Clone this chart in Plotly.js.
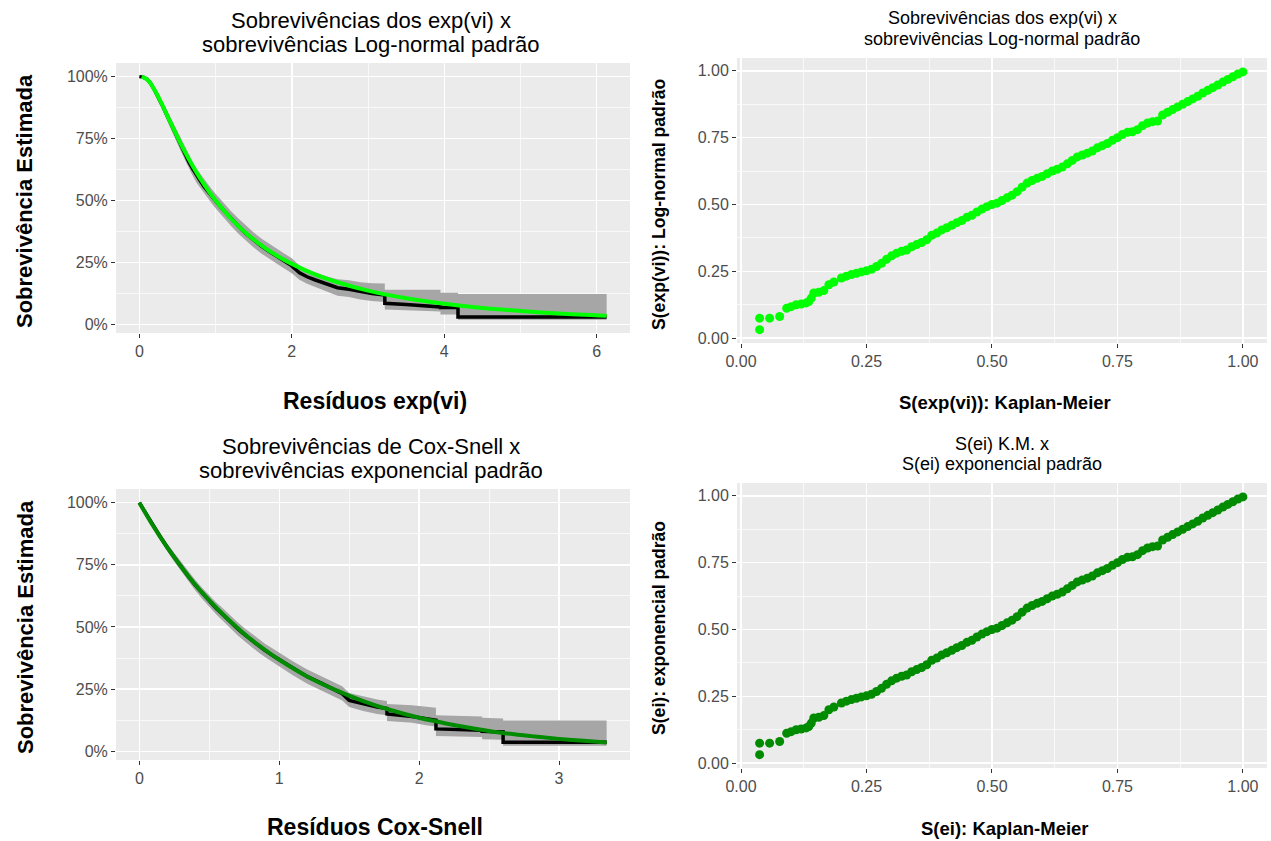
<!DOCTYPE html>
<html><head><meta charset="utf-8">
<script src="https://cdn.plot.ly/plotly-3.0.1.min.js"></script>
<style>html,body{margin:0;padding:0;background:#fff}#chart{width:1271px;height:841px}</style>
</head><body><div id="chart"></div>
<script>
// ---------- Panel 1: KM of exp(vi) vs standard log-normal ----------
const kmViX  = [0,0.05,0.10,0.15,0.20,0.25,0.30,0.35,0.40,0.45,0.50,0.55,0.60,0.65,0.70,0.75,0.80,0.85,0.90,0.95,1.00,1.10,1.20,1.30,1.40,1.50,1.60,1.70,1.80,1.90,2.00,
  2.10,2.20,2.30,2.40,2.50,2.60,2.75,2.90,3.05,3.22,3.22,3.50,3.80,3.95,3.95,4.18,4.18,6.13];
const kmViS  = [1.0,0.998,0.99,0.972,0.945,0.917,0.885,0.852,0.818,0.785,0.752,0.72,0.688,0.655,0.628,0.60,0.578,0.556,0.536,0.516,0.498,0.462,0.428,0.396,0.366,0.340,0.316,0.295,0.274,0.255,0.236,
  0.208,0.192,0.180,0.170,0.158,0.148,0.142,0.132,0.124,0.118,0.085,0.080,0.075,0.070,0.068,0.068,0.030,0.030];
const kmViLo = [1.0,0.994,0.982,0.96,0.93,0.90,0.866,0.832,0.796,0.762,0.728,0.695,0.662,0.628,0.60,0.572,0.55,0.528,0.508,0.488,0.469,0.433,0.398,0.366,0.336,0.310,0.286,0.265,0.244,0.225,0.206,
  0.180,0.164,0.152,0.142,0.130,0.115,0.110,0.100,0.094,0.090,0.060,0.058,0.054,0.052,0.040,0.040,0.018,0.018];
const kmViHi = [1.0,1.0,0.997,0.983,0.958,0.934,0.903,0.872,0.839,0.808,0.776,0.745,0.714,0.682,0.656,0.628,0.606,0.584,0.565,0.545,0.527,0.492,0.458,0.427,0.397,0.371,0.347,0.326,0.305,0.286,0.267,
  0.238,0.222,0.210,0.200,0.190,0.182,0.178,0.170,0.166,0.165,0.140,0.140,0.140,0.140,0.127,0.127,0.122,0.122];
const lognX  = [0.03,0.1,0.15,0.2,0.25,0.3,0.4,0.5,0.6,0.7,0.8,0.9,1.0,1.2,1.4,1.6,1.8,2.0,2.3,2.6,3.0,3.5,4.0,4.5,5.0,5.5,6.13];
const lognS  = [1.0,0.989,0.971,0.946,0.917,0.886,0.820,0.756,0.695,0.639,0.588,0.542,0.500,0.428,0.368,0.319,0.278,0.244,0.202,0.170,0.136,0.105,0.083,0.066,0.054,0.044,0.035];

// ---------- Panel 2 / 4: KM survival vs model survival (points) ----------
const sKM = [0.037,0.037,0.057,0.077,0.091,0.10,0.11,0.12,0.13,0.135,0.14,0.145,0.155,0.165,0.175,0.185,0.20,0.21,0.22,0.23,0.24,0.25,0.26,0.27,0.28,0.29,
  0.30,0.31,0.32,0.33,0.34,0.35,0.36,0.37,0.38,0.39,0.40,0.41,0.42,0.43,0.44,0.45,0.46,0.47,0.48,0.49,0.50,0.51,0.52,0.53,0.54,0.55,0.56,0.57,0.58,0.59,
  0.60,0.61,0.62,0.63,0.64,0.65,0.66,0.67,0.68,0.69,0.70,0.71,0.72,0.73,0.74,0.75,0.76,0.77,0.78,0.79,0.80,0.81,0.82,0.83,0.84,0.85,0.86,0.87,0.88,0.89,
  0.90,0.91,0.92,0.93,0.94,0.95,0.96,0.97,0.98,0.99,1.00];
const sLogn = [0.032,0.075,0.075,0.081,0.112,0.118,0.125,0.128,0.132,0.137,0.15,0.169,0.172,0.178,0.20,0.21,0.225,0.232,0.238,0.243,0.248,0.252,0.258,0.268,0.28,0.295,
  0.308,0.318,0.325,0.33,0.342,0.35,0.358,0.368,0.385,0.393,0.405,0.413,0.422,0.432,0.44,0.452,0.46,0.472,0.483,0.492,0.50,0.505,0.515,0.525,0.535,0.548,0.565,0.58,0.59,0.598,
  0.605,0.615,0.625,0.632,0.64,0.652,0.665,0.678,0.685,0.692,0.70,0.712,0.72,0.728,0.74,0.75,0.762,0.77,0.772,0.78,0.795,0.805,0.81,0.812,0.835,0.845,0.855,0.865,0.875,0.885,
  0.895,0.905,0.917,0.927,0.937,0.947,0.958,0.968,0.978,0.988,0.996];
const sKMei  = sKM.slice();
const sExpEi = sLogn.slice();

// ---------- Panel 3: KM of Cox-Snell residuals vs standard exponential ----------
const kmCsX  = [0,0.05,0.10,0.15,0.20,0.25,0.30,0.35,0.40,0.45,0.50,0.55,0.60,0.65,0.70,0.75,0.80,0.85,0.90,0.95,1.00,1.10,1.20,1.30,
  1.40,1.45,1.50,1.60,1.70,1.77,1.77,1.95,2.05,2.12,2.12,2.45,2.45,2.60,2.60,3.34];
const kmCsS  = [1.0,0.953,0.908,0.862,0.820,0.780,0.741,0.703,0.668,0.635,0.603,0.574,0.548,0.520,0.494,0.470,0.447,0.425,0.405,0.386,0.368,0.333,0.300,0.274,
  0.245,0.232,0.205,0.190,0.178,0.172,0.150,0.140,0.130,0.125,0.090,0.085,0.080,0.078,0.036,0.036];
const kmCsLo = [1.0,0.943,0.896,0.848,0.804,0.762,0.722,0.683,0.647,0.613,0.580,0.550,0.523,0.495,0.468,0.444,0.420,0.398,0.378,0.359,0.340,0.305,0.272,0.245,
  0.216,0.204,0.178,0.162,0.150,0.145,0.122,0.115,0.105,0.100,0.062,0.058,0.048,0.046,0.022,0.022];
const kmCsHi = [1.0,0.963,0.920,0.876,0.836,0.798,0.760,0.723,0.689,0.657,0.626,0.598,0.573,0.545,0.520,0.496,0.474,0.452,0.432,0.414,0.396,0.361,0.329,0.303,
  0.275,0.262,0.234,0.220,0.208,0.202,0.190,0.185,0.180,0.175,0.145,0.140,0.135,0.132,0.124,0.124];
const expX   = [0,0.1,0.2,0.3,0.4,0.5,0.6,0.7,0.8,0.9,1.0,1.2,1.4,1.6,1.8,2.0,2.2,2.4,2.6,2.8,3.0,3.2,3.34];
const expS   = [1.0,0.905,0.819,0.741,0.670,0.607,0.549,0.497,0.449,0.407,0.368,0.301,0.247,0.202,0.165,0.135,0.111,0.091,0.074,0.061,0.050,0.041,0.035];

// ---------- Text ----------
const T1 = ['Sobrevivências dos exp(vi) x','sobrevivências Log-normal padrão'];
const T2 = ['Sobrevivências dos exp(vi) x','sobrevivências Log-normal padrão'];
const T3 = ['Sobrevivências de Cox-Snell x','sobrevivências exponencial padrão'];
const T4 = ['S(ei) K.M. x','S(ei) exponencial padrão'];
const X1 = 'Resíduos exp(vi)', Y1 = 'Sobrevivência Estimada';
const X2 = 'S(exp(vi)): Kaplan-Meier', Y2 = 'S(exp(vi)): Log-normal padrão';
const X3 = 'Resíduos Cox-Snell', Y3 = 'Sobrevivência Estimada';
const X4 = 'S(ei): Kaplan-Meier', Y4 = 'S(ei): exponencial padrão';

// ---------- Layout helpers ----------
const W = 1271, H = 841;
const FONT = 'Liberation Sans, Arial, sans-serif';
const LIME = '#00FF00', DKGREEN = '#008B00', BAND = '#a6a6a6';
const px = v => v / W, py = v => 1 - v / H;

function axis(d, range, dtick, minor, fmt, anchor) {
  return {
    domain: d, range: range, anchor: anchor, tickmode: 'linear', tick0: 0, dtick: dtick,
    tickformat: fmt, showgrid: true, gridcolor: '#ffffff', gridwidth: 1.4, zeroline: false,
    showline: false, ticks: 'outside', ticklen: 4, tickwidth: 1, tickcolor: '#333333',
    tickfont: {family: FONT, size: 16, color: '#4D4D4D'},
    minor: {tick0: 0, dtick: minor, showgrid: true, gridcolor: '#ffffff', gridwidth: 0.7, ticks: ''},
    fixedrange: true
  };
}

function band(x, lo, hi, xa, ya) {
  return [
    {x: x, y: lo, xaxis: xa, yaxis: ya, type: 'scatter', mode: 'lines', line: {width: 0, color: BAND}, hoverinfo: 'skip', showlegend: false},
    {x: x, y: hi, xaxis: xa, yaxis: ya, type: 'scatter', mode: 'lines', fill: 'tonexty', fillcolor: BAND, line: {width: 0, color: BAND}, hoverinfo: 'skip', showlegend: false}
  ];
}

const data = [
  ...band(kmViX, kmViLo, kmViHi, 'x', 'y'),
  {x: kmViX, y: kmViS, xaxis: 'x', yaxis: 'y', type: 'scatter', mode: 'lines', line: {color: '#000000', width: 3.5}, showlegend: false},
  {x: lognX, y: lognS, xaxis: 'x', yaxis: 'y', type: 'scatter', mode: 'lines', line: {color: LIME, width: 4, shape: 'spline'}, showlegend: false},

  {x: sKM, y: sLogn, xaxis: 'x2', yaxis: 'y2', type: 'scatter', mode: 'markers', marker: {color: LIME, size: 9}, showlegend: false},

  ...band(kmCsX, kmCsLo, kmCsHi, 'x3', 'y3'),
  {x: kmCsX, y: kmCsS, xaxis: 'x3', yaxis: 'y3', type: 'scatter', mode: 'lines', line: {color: '#000000', width: 3.5}, showlegend: false},
  {x: expX, y: expS, xaxis: 'x3', yaxis: 'y3', type: 'scatter', mode: 'lines', line: {color: DKGREEN, width: 4, shape: 'spline'}, showlegend: false},

  {x: sKMei, y: sExpEi, xaxis: 'x4', yaxis: 'y4', type: 'scatter', mode: 'markers', marker: {color: DKGREEN, size: 9}, showlegend: false}
];

function ann(text, x, y, size, bold, angle) {
  return {text: bold ? '<b>' + text + '</b>' : text, x: px(x), y: py(y), xref: 'paper', yref: 'paper',
    xanchor: 'center', yanchor: 'middle', showarrow: false, textangle: angle || 0,
    font: {family: FONT, size: size, color: '#000000'}};
}

const annotations = [
  ann(T1[0], 371, 20, 22), ann(T1[1], 371, 44, 22),
  ann(T2[0], 1002, 18, 18), ann(T2[1], 1002, 39, 18),
  ann(T3[0], 371, 446, 22), ann(T3[1], 371, 470, 22),
  ann(T4[0], 1002, 444, 18), ann(T4[1], 1002, 464, 18),
  ann(X1, 375, 401, 23, true), ann(Y1, 25, 201, 22, true, -90),
  ann(X2, 1005, 402, 18.5, true), ann(Y2, 659, 204, 17.6, true, -90),
  ann(X3, 375, 827, 23, true), ann(Y3, 25, 627, 22, true, -90),
  ann(X4, 1005, 828, 18.5, true), ann(Y4, 659, 628, 17.6, true, -90)
];

const layout = {
  width: W, height: H, margin: {l: 0, r: 0, t: 0, b: 0},
  paper_bgcolor: '#ffffff', plot_bgcolor: '#EBEBEB', showlegend: false,
  font: {family: FONT},
  xaxis:  axis([px(116), px(630)], [-0.3065, 6.4365], 2, 1, '', 'y'),
  yaxis:  axis([py(333), py(63)], [-0.035, 1.055], 0.25, 0.125, '.0%', 'x'),
  xaxis2: axis([px(737), px(1267)], [-0.008, 1.048], 0.25, 0.125, '.2f', 'y2'),
  yaxis2: axis([py(343), py(58)], [-0.018, 1.048], 0.25, 0.125, '.2f', 'x2'),
  xaxis3: axis([px(116), px(630)], [-0.167, 3.507], 1, 0.5, '', 'y3'),
  yaxis3: axis([py(760), py(489)], [-0.035, 1.055], 0.25, 0.125, '.0%', 'x3'),
  xaxis4: axis([px(737), px(1267)], [-0.008, 1.048], 0.25, 0.125, '.2f', 'y4'),
  yaxis4: axis([py(768), py(483)], [-0.018, 1.048], 0.25, 0.125, '.2f', 'x4'),
  annotations: annotations
};

Plotly.newPlot('chart', data, layout, {displayModeBar: false, staticPlot: true});
</script></body></html>
